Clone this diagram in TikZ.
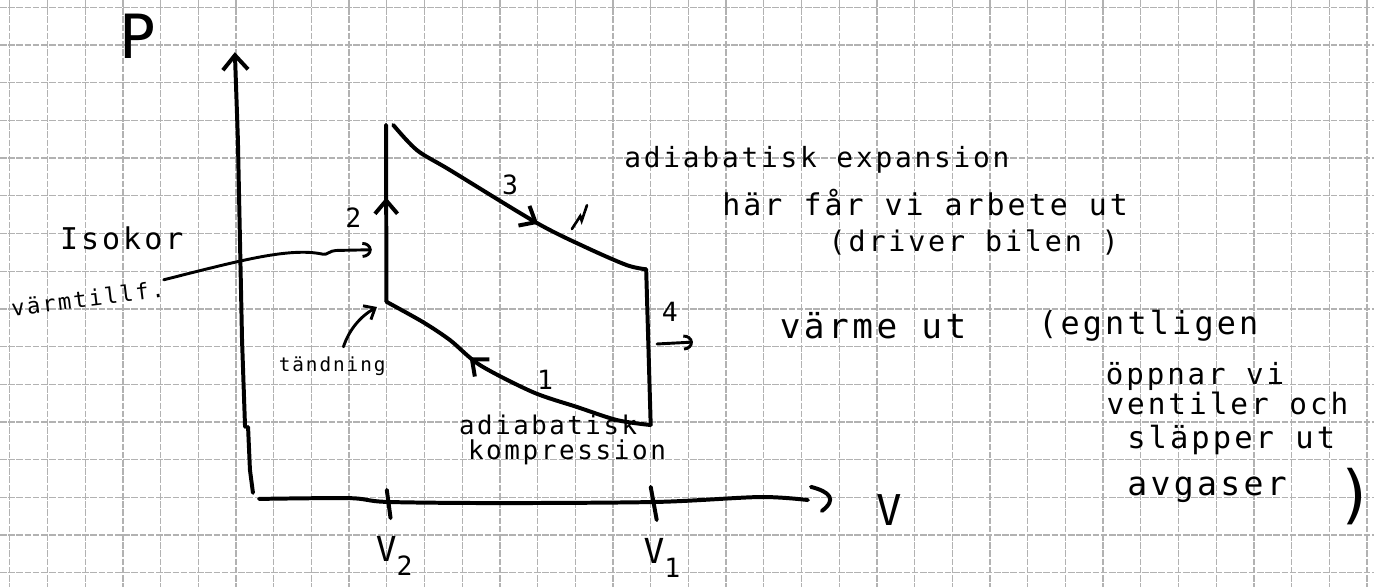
\documentclass[tikz,border=0pt]{standalone}
\usepackage{fontspec}
\newfontfamily\handfont[LetterSpace=10]{DejaVu Sans Mono}
\usetikzlibrary{arrows.meta,decorations.markings}

\tikzset{
  pen/.style={line width=1.5pt, line cap=round, line join=round},
  thinpen/.style={line width=1.1pt, line cap=round, line join=round},
  hand/.style={font={\handfont\fontsize{#1}{#1}\selectfont}, inner sep=0pt},
  hand/.default=11,
  gridline/.style={black!30, line width=0.5pt, dash pattern=on 2.5pt off 0.6pt},
  tipbarb/.style={-{Straight Barb[length=5.5pt,width=9.5pt]}},
  tipsmall/.style={-{Straight Barb[length=3.5pt,width=6pt]}},
  tiphook/.style={-{Arc Barb[length=3.5pt,width=6pt]}},
  midarrow/.style={postaction={decorate}, decoration={markings, mark=at position #1 with {\arrow{Straight Barb[length=5pt,width=8.5pt]}}}}
}

\begin{document}
\begin{tikzpicture}[x=0.5cm, y=-0.5cm]
    \fill[white] (-0.26,-0.194) rectangle (36.186,15.377);
    \useasboundingbox (-0.26,-0.194) rectangle (36.186,15.377);
    \foreach \i in {0,...,36}
        \draw[gridline] (\i,-0.194) -- (\i,15.377);
    \foreach \j in {0,...,15}
        \draw[gridline] (-0.26,\j) -- (36.186,\j);

    % axes
    \coordinate (ptop) at (5.97,1.19);
    \coordinate (pbot) at (6.45,12.88);
    \coordinate (vbeg) at (6.61,13.04);
    \coordinate (vend) at (21.17,13.07);
    \draw[pen, tipbarb] (6.24,11.13) -- (6.16,8.82) -- (6.05,3.5) -- (ptop);
    \draw[pen] (6.32,11.13) -- (6.37,12.27) -- (pbot);
    \draw[pen] plot[smooth] coordinates {(vbeg) (9.02,13.02) (10.01,13.12) (13.0,13.15) (17.17,13.12) (19.9,12.99) (vend)};
    \draw[pen] (21.25,12.72) .. controls (21.75,12.85) and (21.95,13.05) .. (21.54,13.36);
    \draw[pen] (10.0,12.8) -- (10.1,13.55);
    \draw[pen] (17.0,12.72) -- (17.16,13.6);
    \node[hand=23] (P) at (3.40,0.76) {P};
    \node[hand=16] (V) at (23.32,13.33) {V};
    \node[hand=13] (V2) at (10.2,14.55) {V\raisebox{-0.4em}{\fontsize{10}{10}\selectfont 2}};
    \node[hand=13] (V1) at (17.3,14.6) {V\raisebox{-0.4em}{\fontsize{10}{10}\selectfont 1}};

    % cycle
    \coordinate (c2) at (9.99,7.81);
    \coordinate (c3) at (9.98,3.12);
    \coordinate (c3b) at (10.17,3.12);
    \coordinate (c4) at (16.88,6.95);
    \coordinate (c1) at (17.0,11.08);
    \draw[pen, midarrow=0.59] (c2) -- (c3);
    \draw[pen, midarrow=0.6] plot[smooth] coordinates {(c3b) (10.80,3.79) (11.68,4.32) (13.98,5.72) (15.31,6.38) (16.37,6.84) (c4)};
    \draw[pen] (c4) -- (c1);
    \draw[pen, midarrow=0.66] plot[smooth] coordinates {(c1) (16.11,10.95) (15.04,10.60) (13.88,10.21) (12.47,9.49) (11.68,8.83) (10.96,8.35) (c2)};
    \node[hand=10] (n2) at (9.11,5.59) {2};
    \node[hand=10] (n3) at (13.27,4.71) {3};
    \node[hand=10] (n4) at (17.51,8.08) {4};
    \node[hand=10] (n1) at (14.2,9.89) {1};
    \draw[line width=1pt, line cap=round] (14.91,5.88) -- (15.13,5.54) -- (15.17,5.66) -- (15.31,5.25);

    % left notes
    \node[hand=11.3] (isokor) at (2.97,6.12) {Isokor};
    \node[hand=8.4, rotate=7] (tillf) at (2.07,7.72) {värmtillf.};
    \coordinate (isoin) at (9.6,6.43);
    \draw[thinpen, tiphook] (tillf.north east) .. controls (6,6.75) and (7.4,6.35) .. (8.31,6.55) .. controls (8.4,6.58) and (8.5,6.45) .. (8.65,6.45) -- (isoin);
    \node[hand=7.3] (tand) at (8.55,9.51) {tändning};
    \coordinate (ign) at (9.74,7.95);
    \draw[thinpen, tipsmall] ([xshift=0.15cm, yshift=0.12cm]tand.north) .. controls (9.0,8.55) and (9.3,8.2) .. (ign);
    \node[hand=9.7] (adia) at (14.28,11.08) {adiabatisk};
    \node[hand=9.8] (komp) at (14.78,11.80) {kompression};

    % right notes
    \node[hand=10.5] (exp) at (21.41,4.05) {adiabatisk expansion};
    \node[hand=11.3] (arb) at (24.28,5.17) {här får vi arbete ut};
    \node[hand=10.7] (bil) at (25.57,6.25) {(driver bilen )};
    \coordinate (h4a) at (17.17,8.93);
    \coordinate (h4b) at (18.12,8.88);
    \draw[thinpen, tiphook] (h4a) -- (h4b);
    \node[hand=13] (vut) at (22.9,8.45) {värme ut};
    \node[hand=12] (egn) at (30.2,8.45) {(egntligen};
    \node[hand=11] (opp) at (31.44,9.78) {öppnar vi};
    \node[hand=11.1] (ven) at (32.3,10.5) {ventiler och};
    \node[hand=11.5] (sla) at (32.4,11.48) {släpper ut};
    \node[hand=12.5] (avg) at (31.76,12.8) {avgaser};
    \node[hand=24] (par) at (35.7,12.99) {)};
\end{tikzpicture}
\end{document}
